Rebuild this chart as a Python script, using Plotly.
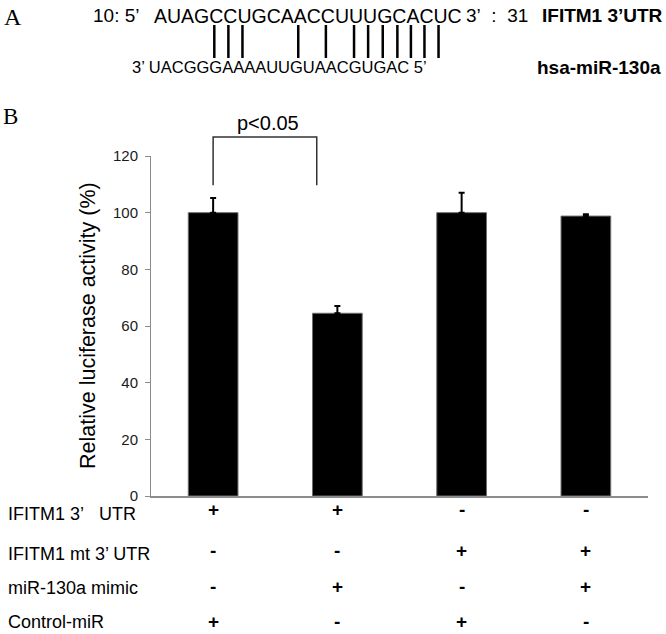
import plotly.graph_objects as go

# ---------------- data ----------------
categories = ["3'UTR + Control-miR", "3'UTR + miR-130a", "mt 3'UTR + Control-miR", "mt 3'UTR + miR-130a"]
values = [100.0, 64.5, 100.0, 98.8]
errors_up = [5.2, 2.6, 7.0, 0.6]
y_ticks = [0, 20, 40, 60, 80, 100, 120]

row_labels = ["IFITM1 3’\u00a0\u00a0\u00a0UTR", "IFITM1 mt 3’ UTR", "miR-130a mimic", "Control-miR"]
row_signs = [
    ["+", "+", "-", "-"],
    ["-", "-", "+", "+"],
    ["-", "+", "-", "+"],
    ["+", "-", "+", "-"],
]

target_seq = "AUAGCCUGCAACCUUUGCACUC"
mirna_seq = "UACGGGAAAAUUGUAACGUGAC"
paired_columns = [4, 5, 6, 10, 12, 14, 15, 16, 17, 18, 19, 20]  # columns joined by a bar
pvalue_text = "p<0.05"

# ---------------- geometry helpers ----------------
W, H = 666, 634
L, R, T, B = 151, 18, 156, 138
PW, PH = W - L - R, H - T - B
Y_MAX = 120


def px(x):
    return (x - L) / PW


def py(y):
    return (H - B - y) / PH


def cat2paper(c):
    return (c + 0.5) / len(categories)


FONT = "Arial, 'Liberation Sans', sans-serif"
SERIF = "'Times New Roman', 'Liberation Serif', serif"
AXIS_GREY = "#8c8c8c"

fig = go.Figure()
fig.add_trace(go.Bar(
    x=categories, y=values, width=0.4,
    marker=dict(color="black", line=dict(color="#6e6e6e", width=1)),
    error_y=dict(type="data", symmetric=False, array=errors_up,
                 arrayminus=[0] * len(values), color="black", thickness=2, width=3),
    showlegend=False,
))

annotations = []
shapes = []

# y-axis title
annotations.append(dict(xref="paper", yref="paper", x=px(88), y=0.5, text="Relative luciferase activity (%)",
                        textangle=-90, showarrow=False, font=dict(family=FONT, size=21.5, color="black"),
                        xanchor="center", yanchor="middle"))

# significance bracket (category 0 centre to just past left edge of category 1)
br_left, br_right = cat2paper(0), cat2paper(0.834)
br_low, br_top = 109.7 / Y_MAX, 126.7 / Y_MAX
shapes.append(dict(type="path", xref="paper", yref="paper",
                   path=f"M {br_left} {br_low} L {br_left} {br_top} L {br_right} {br_top} L {br_right} {br_low}",
                   line=dict(color="#333333", width=1.5)))
annotations.append(dict(xref="paper", yref="paper", x=(br_left + br_right) / 2 + 0.006, y=131.5 / Y_MAX,
                        text=pvalue_text, showarrow=False, font=dict(family=FONT, size=20, color="black"),
                        xanchor="center", yanchor="middle"))

# condition table
label_y = [514, 554, 588, 622]
sign_y = [509, 550, 586, 621]
for r, lab in enumerate(row_labels):
    annotations.append(dict(xref="paper", yref="paper", x=px(6), y=py(label_y[r]), text=lab,
                            showarrow=False, font=dict(family=FONT, size=18, color="black"),
                            xanchor="left", yanchor="middle"))
    for c, s in enumerate(row_signs[r]):
        annotations.append(dict(xref="x", yref="paper", x=categories[c], y=py(sign_y[r]), text=f"<b>{s}</b>",
                                showarrow=False, font=dict(family=FONT, size=19, color="black"),
                                xanchor="center", yanchor="middle"))

# panel letters
annotations.append(dict(xref="paper", yref="paper", x=px(2), y=py(17), text="A", showarrow=False,
                        font=dict(family=SERIF, size=24, color="black"), xanchor="left", yanchor="middle"))
annotations.append(dict(xref="paper", yref="paper", x=px(1), y=py(116), text="B", showarrow=False,
                        font=dict(family=SERIF, size=23, color="black"), xanchor="left", yanchor="middle"))

# sequences
SEQ1_SIZE = 19.5
SEQ2_SIZE = 16.5
seq1_left = 152
line1_y, line2_y = 16, 67
annotations.append(dict(xref="paper", yref="paper", x=px(91), y=py(line1_y), text="10: 5’",
                        showarrow=False, font=dict(family=FONT, size=19, color="black"),
                        xanchor="left", yanchor="middle"))
annotations.append(dict(xref="paper", yref="paper", x=px(seq1_left), y=py(line1_y), text=target_seq,
                        showarrow=False, font=dict(family=FONT, size=SEQ1_SIZE, color="black"),
                        xanchor="left", yanchor="middle"))
annotations.append(dict(xref="paper", yref="paper", x=px(464), y=py(line1_y),
                        text="3’\u00a0\u00a0:\u00a0\u00a031",
                        showarrow=False, font=dict(family=FONT, size=19, color="black"),
                        xanchor="left", yanchor="middle"))
annotations.append(dict(xref="paper", yref="paper", x=px(665), y=py(line1_y), text="<b>IFITM1 3’UTR</b>",
                        showarrow=False, font=dict(family=FONT, size=19, color="black"),
                        xanchor="right", yanchor="middle"))
annotations.append(dict(xref="paper", yref="paper", x=px(130), y=py(line2_y), text="3’ " + mirna_seq + " 5’",
                        showarrow=False, font=dict(family=FONT, size=SEQ2_SIZE, color="black"),
                        xanchor="left", yanchor="middle"))
annotations.append(dict(xref="paper", yref="paper", x=px(663), y=py(line2_y), text="<b>hsa-miR-130a</b>",
                        showarrow=False, font=dict(family=FONT, size=19, color="black"),
                        xanchor="right", yanchor="middle"))

# base-pairing lines under the paired columns of the target sequence
ARIAL_W = {"A": 0.667, "U": 0.722, "G": 0.778, "C": 0.722}
xpos = seq1_left
for i, a in enumerate(target_seq):
    w = ARIAL_W[a] * SEQ1_SIZE
    if i in paired_columns:
        cx = xpos + w / 2
        shapes.append(dict(type="line", xref="paper", yref="paper", x0=px(cx), x1=px(cx),
                           y0=py(25), y1=py(58), line=dict(color="black", width=2.5)))
    xpos += w

fig.update_layout(
    width=W, height=H,
    margin=dict(l=L, r=R, t=T, b=B, pad=0),
    paper_bgcolor="white", plot_bgcolor="white",
    bargap=0.6,
    xaxis=dict(showline=True, linecolor=AXIS_GREY, linewidth=1.5, showticklabels=False, ticks="",
               showgrid=False, zeroline=False, range=[-0.5, len(categories) - 0.5], fixedrange=True),
    yaxis=dict(range=[0, Y_MAX], tickvals=y_ticks, ticks="outside", ticklen=5, tickcolor=AXIS_GREY,
               tickwidth=1, showline=True, linecolor=AXIS_GREY, linewidth=1, showgrid=False, zeroline=False,
               tickfont=dict(family=FONT, size=15, color="#1a1a1a"), ticklabelstandoff=4, fixedrange=True),
    annotations=annotations,
    shapes=shapes,
    font=dict(family=FONT, color="black"),
)

fig.write_html("out.html", config={"displayModeBar": False, "staticPlot": True},
               post_script="document.body.style.margin='0';document.body.style.padding='0';")
